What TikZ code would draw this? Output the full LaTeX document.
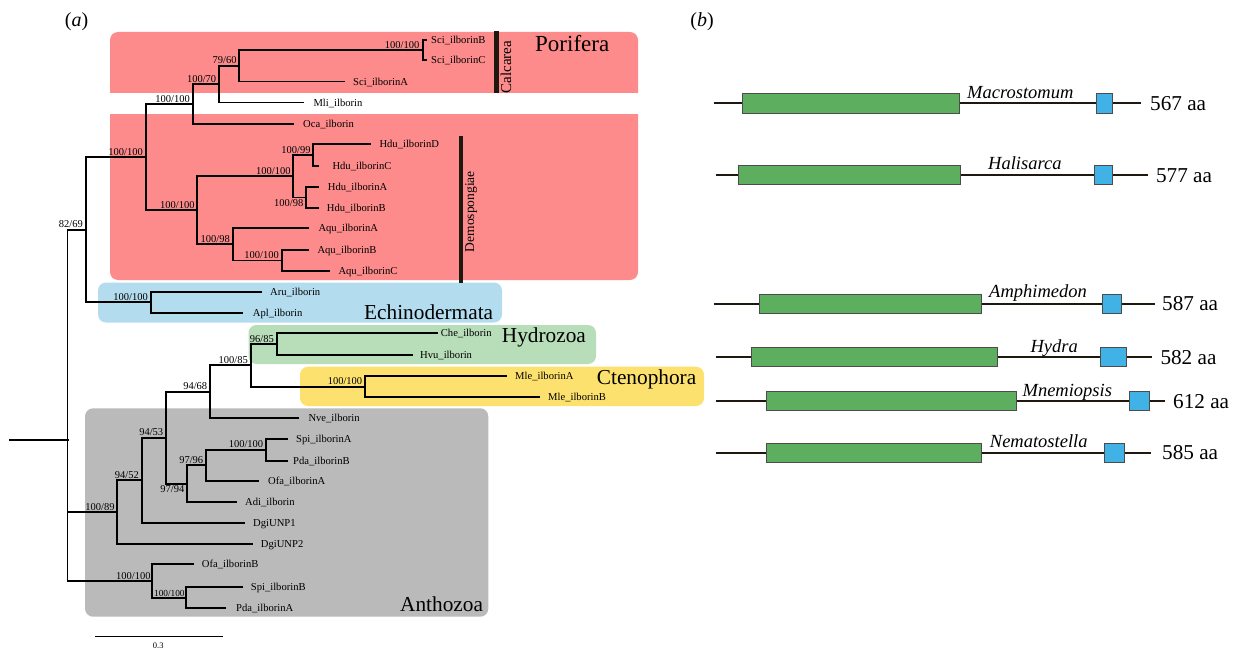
\documentclass[tikz,border=0pt]{standalone}
\usepackage{fontspec}
\setmainfont{Liberation Serif}
\definecolor{porif}{RGB}{253,139,139}
\definecolor{echin}{RGB}{179,221,239}
\definecolor{hydro}{RGB}{184,221,185}
\definecolor{cteno}{RGB}{252,225,110}
\definecolor{antho}{RGB}{186,186,186}
\definecolor{gbox}{RGB}{93,174,95}
\definecolor{bbox}{RGB}{64,178,230}
\definecolor{dline}{RGB}{30,24,14}
\begin{document}
\begin{tikzpicture}[x=1pt,y=-1pt,
  br/.style={line width=1.9pt, black, line cap=rect},
  leaf/.style={font=\fontsize{10.6}{12}\selectfont, anchor=base west, inner sep=0pt, yshift=-3.6pt},
  bsa/.style={font=\fontsize{10.5}{12}\selectfont, anchor=south east, inner sep=0.6pt},
  bsb/.style={font=\fontsize{10.5}{12}\selectfont, anchor=north east, inner sep=0.6pt},
  clade/.style={font=\fontsize{21.3}{24}\selectfont, anchor=base west, inner sep=0pt},
  bg/.style={rounded corners=8pt},
  bar/.style={fill=dline},
  protline/.style={line width=1.8pt, dline},
  gdom/.style={fill=gbox, draw=black!70, line width=0.8pt},
  bdom/.style={fill=bbox, draw=black!70, line width=0.8pt},
  spec/.style={font=\fontsize{18.5}{20}\selectfont\itshape, anchor=base west, inner sep=0pt},
  aalab/.style={font=\fontsize{21.2}{24}\selectfont, anchor=base west, inner sep=0pt},
  panel/.style={font=\fontsize{20}{22}\selectfont, inner sep=0pt}
]
\useasboundingbox (0,0) rectangle (1247,650);

% ---------- backgrounds ----------
\fill[porif, bg] (110,32) rectangle (638,280);
\fill[white] (100,93) rectangle (650,114);
\fill[echin, bg] (98,282.5) rectangle (502,322.5);
\fill[hydro, bg] (248.5,325) rectangle (596,364);
\fill[cteno, bg] (300,366.7) rectangle (704,406);
\fill[antho, bg] (85,408.3) rectangle (488.3,616.7);

% ---------- clade bars ----------
\fill[bar] (494.3,31) rectangle (499,93);
\fill[bar] (459,136) rectangle (463.3,283);
\node[rotate=90, font=\fontsize{15}{16}\selectfont, inner sep=0pt] (calc) at (506,67) {Calcarea};
\node[rotate=90, font=\fontsize{13.5}{15}\selectfont, inner sep=0pt] (demo) at (471,211.7) {Demospongiae};

% ---------- clade names ----------
\node[clade, font=\fontsize{23}{25}\selectfont] (porifera) at (535,52) {Porifera};
\node[clade] (echino) at (364,319) {Echinodermata};
\node[clade] (hydrozoa) at (501.7,342.5) {Hydrozoa};
\node[clade] (ctenophora) at (596.7,384.3) {Ctenophora};
\node[clade] (anthozoa) at (400,611.7) {Anthozoa};

% ---------- panel labels ----------
\node[panel] (pa) at (76.5,22) {(\textit{a})};
\node[panel] (pb) at (702,22) {(\textit{b})};

% ---------- internal nodes ----------
\coordinate (r0) at (10,440);
\coordinate (r) at (67.5,440);
\coordinate (nA) at (85.7,229.7);
\coordinate (nB) at (145.7,157);
\coordinate (nC) at (192.7,104);
\coordinate (nD) at (219,84.1);
\coordinate (n7960) at (239.3,65.75);
\coordinate (nSciBC) at (422.7,50);
\coordinate (nDemo) at (197.3,210.3);
\coordinate (nHdu) at (293.3,176.25);
\coordinate (nHDC) at (313.3,155);
\coordinate (nHAB) at (305.7,197.5);
\coordinate (nAqu) at (232.7,244.4);
\coordinate (nABC) at (281.7,260.5);
\coordinate (nEch) at (150.7,302.35);
\coordinate (n10089) at (117.3,512.15);
\coordinate (n9452) at (141.7,480.3);
\coordinate (n9453) at (166,437.6);
\coordinate (n9468) at (210,391.55);
\coordinate (n10085) at (250.7,365.4);
\coordinate (n9685) at (276.7,344.15);
\coordinate (nCten) at (365,386.65);
\coordinate (n9794) at (186.7,483.6);
\coordinate (n9796) at (206,465.3);
\coordinate (nSPa) at (266,449.85);
\coordinate (nOS) at (152.3,580.9);
\coordinate (nSPb) at (185.7,597.8);

% ---------- leaf tips ----------
\coordinate (tSciB) at (426.5,40);
\coordinate (tSciC) at (426.5,60);
\coordinate (tSciA) at (344,81.5);
\coordinate (tMli) at (303.3,102.5);
\coordinate (tOca) at (293,124);
\coordinate (tHduD) at (370,144.3);
\coordinate (tHduC) at (318.3,165.7);
\coordinate (tHduA) at (318.3,187.3);
\coordinate (tHduB) at (318.3,207.7);
\coordinate (tAquA) at (308.3,228.3);
\coordinate (tAquB) at (308.3,250);
\coordinate (tAquC) at (329.3,271);
\coordinate (tAru) at (261,292);
\coordinate (tApl) at (241.7,312.7);
\coordinate (tChe) at (436.7,333.3);
\coordinate (tHvu) at (411.7,355);
\coordinate (tMleA) at (506,376);
\coordinate (tMleB) at (539.3,397.3);
\coordinate (tNve) at (298.3,417.7);
\coordinate (tSpiA) at (286.7,439);
\coordinate (tPdaB) at (286.7,460.7);
\coordinate (tOfaA) at (258,480.7);
\coordinate (tAdi) at (236,502);
\coordinate (tDgi1) at (244,523);
\coordinate (tDgi2) at (251.7,544);
\coordinate (tOfaB) at (192.7,564);
\coordinate (tSpiB) at (241.7,587.3);
\coordinate (tPdaA) at (225,608.3);

% ---------- branches ----------
\draw[br, line width=2.5pt] (r0) -- (r);
\draw[br] (r) |- (nA);  \draw[br] (r) |- (n10089);  \draw[br] (r) |- (nOS);
\draw[br] (nA) |- (nB);  \draw[br] (nA) |- (nEch);
\draw[br] (nB) |- (nC);  \draw[br] (nB) |- (nDemo);
\draw[br] (nC) |- (nD);  \draw[br] (nC) |- (tOca);
\draw[br] (nD) |- (n7960);  \draw[br] (nD) |- (tMli);
\draw[br] (n7960) |- (nSciBC);  \draw[br] (n7960) |- (tSciA);
\draw[br] (nSciBC) |- (tSciB);  \draw[br] (nSciBC) |- (tSciC);
\draw[br] (nDemo) |- (nHdu);  \draw[br] (nDemo) |- (nAqu);
\draw[br] (nHdu) |- (nHDC);  \draw[br] (nHdu) |- (nHAB);
\draw[br] (nHDC) |- (tHduD);  \draw[br] (nHDC) |- (tHduC);
\draw[br] (nHAB) |- (tHduA);  \draw[br] (nHAB) |- (tHduB);
\draw[br] (nAqu) |- (tAquA);  \draw[br] (nAqu) |- (nABC);
\draw[br] (nABC) |- (tAquB);  \draw[br] (nABC) |- (tAquC);
\draw[br] (nEch) |- (tAru);  \draw[br] (nEch) |- (tApl);
\draw[br] (n10089) |- (n9452);  \draw[br] (n10089) |- (tDgi2);
\draw[br] (n9452) |- (n9453);  \draw[br] (n9452) |- (tDgi1);
\draw[br] (n9453) |- (n9468);  \draw[br] (n9453) |- (n9794);
\draw[br] (n9468) |- (n10085);  \draw[br] (n9468) |- (tNve);
\draw[br] (n10085) |- (n9685);  \draw[br] (n10085) |- (nCten);
\draw[br] (n9685) |- (tChe);  \draw[br] (n9685) |- (tHvu);
\draw[br] (nCten) |- (tMleA);  \draw[br] (nCten) |- (tMleB);
\draw[br] (n9794) |- (n9796);  \draw[br] (n9794) |- (tAdi);
\draw[br] (n9796) |- (nSPa);  \draw[br] (n9796) |- (tOfaA);
\draw[br] (nSPa) |- (tSpiA);  \draw[br] (nSPa) |- (tPdaB);
\draw[br] (nOS) |- (tOfaB);  \draw[br] (nOS) |- (nSPb);
\draw[br] (nSPb) |- (tSpiB);  \draw[br] (nSPb) |- (tPdaA);

% ---------- leaf labels ----------
\node[leaf] (lSciB) at (431,40) {Sci\_ilborinB};
\node[leaf] (lSciC) at (431,60) {Sci\_ilborinC};
\node[leaf] (lSciA) at (353,81.5) {Sci\_ilborinA};
\node[leaf] (lMli) at (313.3,102.5) {Mli\_ilborin};
\node[leaf] (lOca) at (303,124) {Oca\_ilborin};
\node[leaf] (lHduD) at (379.3,144.3) {Hdu\_ilborinD};
\node[leaf] (lHduC) at (332.3,165.7) {Hdu\_ilborinC};
\node[leaf] (lHduA) at (327.7,187.3) {Hdu\_ilborinA};
\node[leaf] (lHduB) at (326.7,207.7) {Hdu\_ilborinB};
\node[leaf] (lAquA) at (318.3,228.3) {Aqu\_ilborinA};
\node[leaf] (lAquB) at (317.3,250) {Aqu\_ilborinB};
\node[leaf] (lAquC) at (338.3,271) {Aqu\_ilborinC};
\node[leaf] (lAru) at (270,292) {Aru\_ilborin};
\node[leaf] (lApl) at (252.7,312.7) {Apl\_ilborin};
\node[leaf] (lChe) at (440.7,333.3) {Che\_ilborin};
\node[leaf] (lHvu) at (420,355) {Hvu\_ilborin};
\node[leaf] (lMleA) at (515,376) {Mle\_ilborinA};
\node[leaf] (lMleB) at (548,397.3) {Mle\_ilborinB};
\node[leaf] (lNve) at (308.3,417.7) {Nve\_ilborin};
\node[leaf] (lSpiA) at (296,439) {Spi\_ilborinA};
\node[leaf] (lPdaB) at (293,460.7) {Pda\_ilborinB};
\node[leaf] (lOfaA) at (268,480.7) {Ofa\_ilborinA};
\node[leaf] (lAdi) at (245,502) {Adi\_ilborin};
\node[leaf] (lDgi1) at (253,523) {DgiUNP1};
\node[leaf] (lDgi2) at (260.7,544) {DgiUNP2};
\node[leaf] (lOfaB) at (201.7,564) {Ofa\_ilborinB};
\node[leaf] (lSpiB) at (250.7,587.3) {Spi\_ilborinB};
\node[leaf] (lPdaA) at (236,608.3) {Pda\_ilborinA};

% ---------- support values ----------
\node[bsa] (sSciBC) at ([shift={(-2.5,-1)}]nSciBC) {100/100};
\node[bsa] (s7960) at ([shift={(-2,-1)}]n7960) {79/60};
\node[bsa] (sD) at ([shift={(-2,-1)}]nD) {100/70};
\node[bsa] (sC) at ([shift={(-2,-1)}]nC) {100/100};
\node[bsa] (sB) at ([shift={(-2,-1)}]nB) {100/100};
\node[bsa] (sA) at ([shift={(-2,-1)}]nA) {82/69};
\node[bsa] (sHDC) at ([shift={(-2,-1)}]nHDC) {100/99};
\node[bsa] (sHdu) at ([shift={(-2,-1)}]nHdu) {100/100};
\node[bsb] (sHAB) at ([shift={(-1.5,1.5)}]nHAB) {100/98};
\node[bsa] (sDemo) at ([shift={(-2,-1)}]nDemo) {100/100};
\node[bsa] (sAqu) at ([shift={(-2,-1)}]nAqu) {100/98};
\node[bsa] (sABC) at ([shift={(-2,-1)}]nABC) {100/100};
\node[bsa] (sEch) at ([shift={(-2,-1)}]nEch) {100/100};
\node[bsa] (s9685) at ([shift={(-2,-1)}]n9685) {96/85};
\node[bsa] (s10085) at ([shift={(-2,-1)}]n10085) {100/85};
\node[bsa] (sCten) at ([shift={(-2,-1)}]nCten) {100/100};
\node[bsa] (s9468) at ([shift={(-2,-1)}]n9468) {94/68};
\node[bsa] (s9453) at ([shift={(-2,-1)}]n9453) {94/53};
\node[bsa] (s9452) at ([shift={(-2,-1)}]n9452) {94/52};
\node[bsa] (s10089) at ([shift={(-2,-1)}]n10089) {100/89};
\node[bsb] (s9794) at ([shift={(-1.5,1.5)}]n9794) {97/94};
\node[bsa] (s9796) at ([shift={(-2,-1)}]n9796) {97/96};
\node[bsa] (sSPa) at ([shift={(-2,-1)}]nSPa) {100/100};
\node[bsa] (sOS) at ([shift={(-1,-1)}]nOS) {100/100};
\node[bsa, font=\fontsize{9.3}{11}\selectfont, inner sep=0.3pt] (sSPb) at ([shift={(-0.6,-1)}]nSPb) {100/100};

% ---------- scale bar ----------
\coordinate (sc0) at (95,636.7);
\coordinate (sc1) at (223.3,636.7);
\draw[line width=0.8pt] (sc0) -- (sc1);
\node[font=\fontsize{8.5}{10}\selectfont, inner sep=0pt] (scl) at (158.3,645.5) {0.3};

% ---------- panel (b) ----------
% row 1
\coordinate (a1) at (713.8,103.4); \coordinate (b1) at (1140.7,103.4);
\draw[protline] (a1) -- (b1);
\filldraw[gdom] (742.4,93.6) rectangle (959.7,113);
\filldraw[bdom] (1095.9,93.6) rectangle (1112.8,113);
\node[spec] (sp1) at (967,98.3) {Macrostomum};
\node[aalab] (aa1) at (1150,110.4) {567 aa};
% row 2
\coordinate (a2) at (715.5,175.2); \coordinate (b2) at (1148,175.2);
\draw[protline] (a2) -- (b2);
\filldraw[gdom] (738.6,165.4) rectangle (960.3,184.8);
\filldraw[bdom] (1094.8,165.4) rectangle (1112.8,184.8);
\node[spec] (sp2) at (988,169.5) {Halisarca};
\node[aalab] (aa2) at (1155.9,182.2) {577 aa};
% row 3
\coordinate (a3) at (713.8,303.8); \coordinate (b3) at (1155.2,303.8);
\draw[protline] (a3) -- (b3);
\filldraw[gdom] (759.3,294) rectangle (981,313.4);
\filldraw[bdom] (1102.8,294) rectangle (1121.4,313.4);
\node[spec] (sp3) at (989,297.5) {Amphimedon};
\node[aalab] (aa3) at (1162,310.8) {587 aa};
% row 4
\coordinate (a4) at (715.5,357.2); \coordinate (b4) at (1152.4,357.2);
\draw[protline] (a4) -- (b4);
\filldraw[gdom] (751,347.4) rectangle (997.2,366.8);
\filldraw[bdom] (1100,347.4) rectangle (1126.2,366.8);
\node[spec] (sp4) at (1030.3,352) {Hydra};
\node[aalab] (aa4) at (1160.3,364.2) {582 aa};
% row 5
\coordinate (a5) at (715.5,401); \coordinate (b5) at (1164.8,401);
\draw[protline] (a5) -- (b5);
\filldraw[gdom] (766.6,391.2) rectangle (1016.2,410.6);
\filldraw[bdom] (1129.3,391.2) rectangle (1149.3,410.6);
\node[spec] (sp5) at (1022.4,396) {Mnemiopsis};
\node[aalab] (aa5) at (1173,408) {612 aa};
% row 6
\coordinate (a6) at (715.5,452.8); \coordinate (b6) at (1151,452.8);
\draw[protline] (a6) -- (b6);
\filldraw[gdom] (766.6,443) rectangle (981,462.4);
\filldraw[bdom] (1104.5,443) rectangle (1124.1,462.4);
\node[spec] (sp6) at (989.7,447) {Nematostella};
\node[aalab] (aa6) at (1162,459.8) {585 aa};
\end{tikzpicture}
\end{document}
